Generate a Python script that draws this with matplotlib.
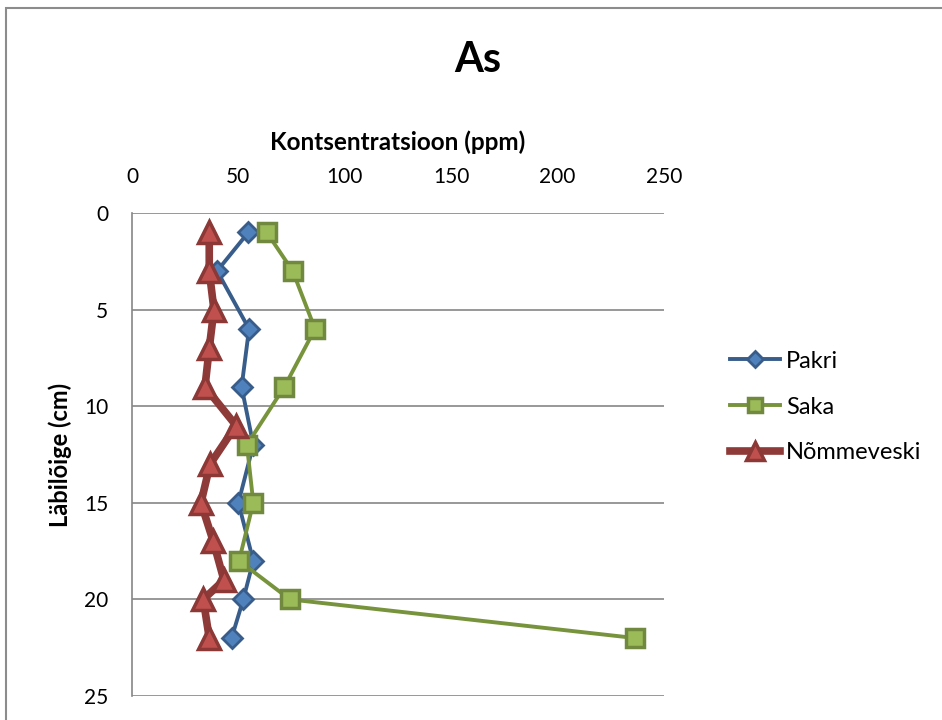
import matplotlib.pyplot as plt
from matplotlib.patches import Rectangle

plt.rcParams['font.family'] = ['Lato', 'DejaVu Sans']

# depth (cm) and concentration (ppm)
pakri_depth = [1, 3, 6, 9, 12, 15, 18, 20, 22]
pakri_as = [54.7, 40, 55, 51.5, 57, 50, 57, 52.3, 46.8]

saka_depth = [1, 3, 6, 9, 12, 15, 18, 20, 22]
saka_as = [63.3, 75.5, 86, 71.6, 54, 57, 50.3, 74.2, 236.4]

nomme_depth = [1, 3, 5, 7, 9, 11, 13, 15, 17, 19, 20, 22]
nomme_as = [36.3, 36.3, 38.5, 36.3, 34.3, 48.9, 36.7, 32.4, 38.2, 43.2, 33.5, 36.3]

fig = plt.figure(figsize=(9.42, 7.2), dpi=100)
fig.patches.append(Rectangle((6/942, -0.1), 1.2, 1 - 8/720 + 0.1, transform=fig.transFigure,
                             fill=False, edgecolor='#8c8c8c', linewidth=1.5))

ax = fig.add_axes([132/942, 1 - 696/720, (664 - 132)/942, (696 - 213)/720])

ax.plot(pakri_as, pakri_depth, color='#385D8A', lw=2.8, marker='D', ms=10.5,
        mfc='#4F81BD', mec='#385D8A', mew=2, label='Pakri', zorder=3)
ax.plot(saka_as, saka_depth, color='#77933C', lw=2.8, marker='s', ms=12.5,
        mfc='#9BBB59', mec='#71893F', mew=2.5, label='Saka', zorder=3)
ax.plot(nomme_as, nomme_depth, color='#8E3A38', lw=5.5, marker='^', ms=15.5,
        mfc='#C0504D', mec='#8C3836', mew=2.5, label='Nõmmeveski', zorder=4)

ax.set_xlim(0, 250)
ax.set_ylim(25, 0)
ax.set_xticks([0, 50, 100, 150, 200, 250])
ax.set_yticks([0, 5, 10, 15, 20, 25])
ax.xaxis.tick_top()
ax.xaxis.set_label_position('top')
ax.tick_params(length=0, labelsize=15)
ax.tick_params(axis='x', pad=19)
ax.tick_params(axis='y', pad=17)
ax.grid(axis='y', color='#868686', lw=1.2)
for s in ['top', 'right', 'bottom']:
    ax.spines[s].set_visible(False)
ax.spines['left'].set_color('#868686')
ax.spines['left'].set_linewidth(1.2)

ax.set_xlabel('Kontsentratsioon (ppm)', fontsize=17.5, fontweight='bold', labelpad=12)
ax.set_ylabel('Läbilõige (cm)', fontsize=17, fontweight='bold', labelpad=9)

fig.text(478/942, 1 - 60/720, 'As', fontsize=30, fontweight='bold', ha='center', va='center')

fig.legend(loc='center left', bbox_to_anchor=(709/942, 1 - 407/720), frameon=False,
           fontsize=17, handlelength=2.1, labelspacing=1.05, handletextpad=0.25,
           markerscale=0.8)

fig.savefig('out.png', dpi=100)
